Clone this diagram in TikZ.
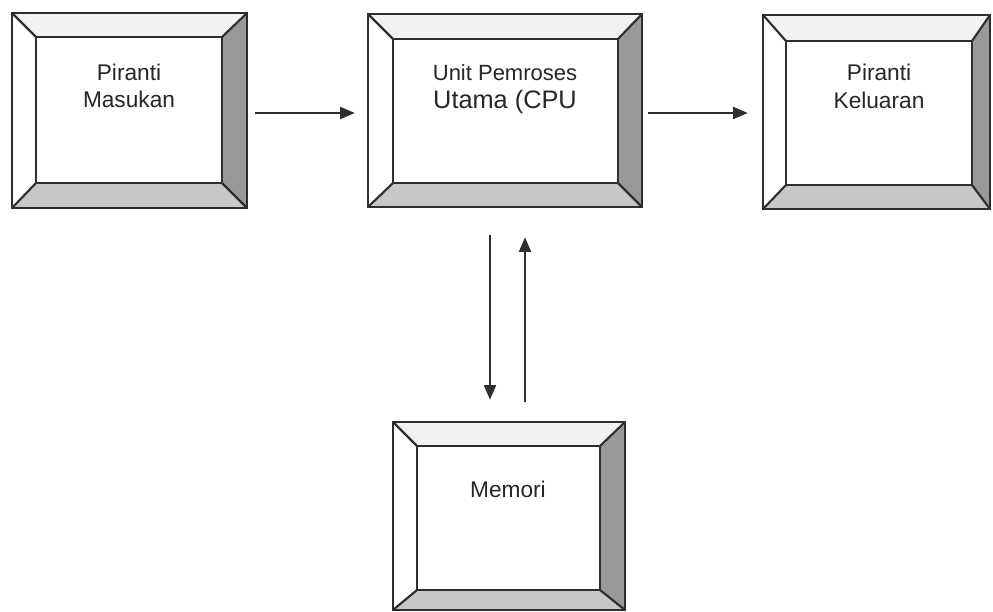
\documentclass[tikz,border=0pt]{standalone}
\usepackage{fontspec}
\setmainfont{Liberation Sans}
\usetikzlibrary{fit,arrows.meta}
\tikzset{
  edge/.style={draw=black!82, line width=1.6pt, line join=miter},
  topface/.style={fill=black!5},
  rightface/.style={fill=black!40},
  bottomface/.style={fill=black!22},
  leftface/.style={fill=white},
  lbl/.style={font=\fontsize{17}{20}\selectfont, text=black!85, inner sep=0pt, anchor=base},
  arr/.style={draw=black!82, line width=1.5pt, -{Triangle[length=11pt,width=9pt]}},
}
% name, outer x1,y1,x2,y2 ; inner x1,y1,x2,y2
\newcommand{\bevelbox}[9]{%
  \coordinate (#1-a) at (#2,#3);
  \coordinate (#1-b) at (#4,#5);
  \node[fit=(#1-a)(#1-b), inner sep=0pt] (#1) {};
  \path[topface] (#2,#3) -- (#4,#3) -- (#8,#7) -- (#6,#7) -- cycle;
  \path[rightface] (#4,#3) -- (#4,#5) -- (#8,#9) -- (#8,#7) -- cycle;
  \path[bottomface] (#2,#5) -- (#4,#5) -- (#8,#9) -- (#6,#9) -- cycle;
  \path[leftface] (#2,#3) -- (#6,#7) -- (#6,#9) -- (#2,#5) -- cycle;
  \draw[edge] (#2,#3) rectangle (#4,#5);
  \draw[edge] (#6,#7) rectangle (#8,#9);
  \draw[edge] (#2,#3) -- (#6,#7) (#4,#3) -- (#8,#7) (#4,#5) -- (#8,#9) (#2,#5) -- (#6,#9);
}
\begin{document}
\begin{tikzpicture}[x=0.75pt, y=-0.75pt]
\useasboundingbox (0,0) rectangle (993,611);
\fill[white] (0,0) rectangle (993,611);

\bevelbox{in}{12}{13}{247}{208}{36}{37}{222}{183}
\bevelbox{cpu}{368}{14}{642}{207}{393}{39}{618}{183}
\bevelbox{out}{763}{15}{990}{209}{786}{41}{972}{185}
\bevelbox{mem}{393}{422}{625}{610}{417}{446}{600}{590}

\node[lbl] (in-t1) at (129,80) {Piranti};
\node[lbl] (in-t2) at (129,107) {Masukan};
\node[lbl, font=\fontsize{16.5}{20}\selectfont] (cpu-t1) at (505,80) {Unit Pemroses};
\node[lbl, font=\fontsize{19}{22}\selectfont] (cpu-t2) at (505,108) {Utama (CPU};
\node[lbl] (out-t1) at (879,80) {Piranti};
\node[lbl] (out-t2) at (879,108) {Keluaran};
\node[lbl] (mem-t) at (508,497) {Memori};

\coordinate (r1) at ([yshift=-1.875pt]in.east);
\draw[arr, shorten <=6pt, shorten >=9.75pt] (r1) -- (cpu.west |- r1);
\coordinate (r2) at ([yshift=-1.875pt]cpu.east);
\draw[arr, shorten <=4.5pt, shorten >=11.25pt] (r2) -- (out.west |- r2);

\coordinate (dn) at (490,0);
\coordinate (up) at (525,0);
\draw[arr, shorten <=21pt, shorten >=16.5pt] (dn |- cpu.south) -- (dn |- mem.north);
\draw[arr, shorten <=15pt, shorten >=22.5pt] (up |- mem.north) -- (up |- cpu.south);
\end{tikzpicture}
\end{document}
